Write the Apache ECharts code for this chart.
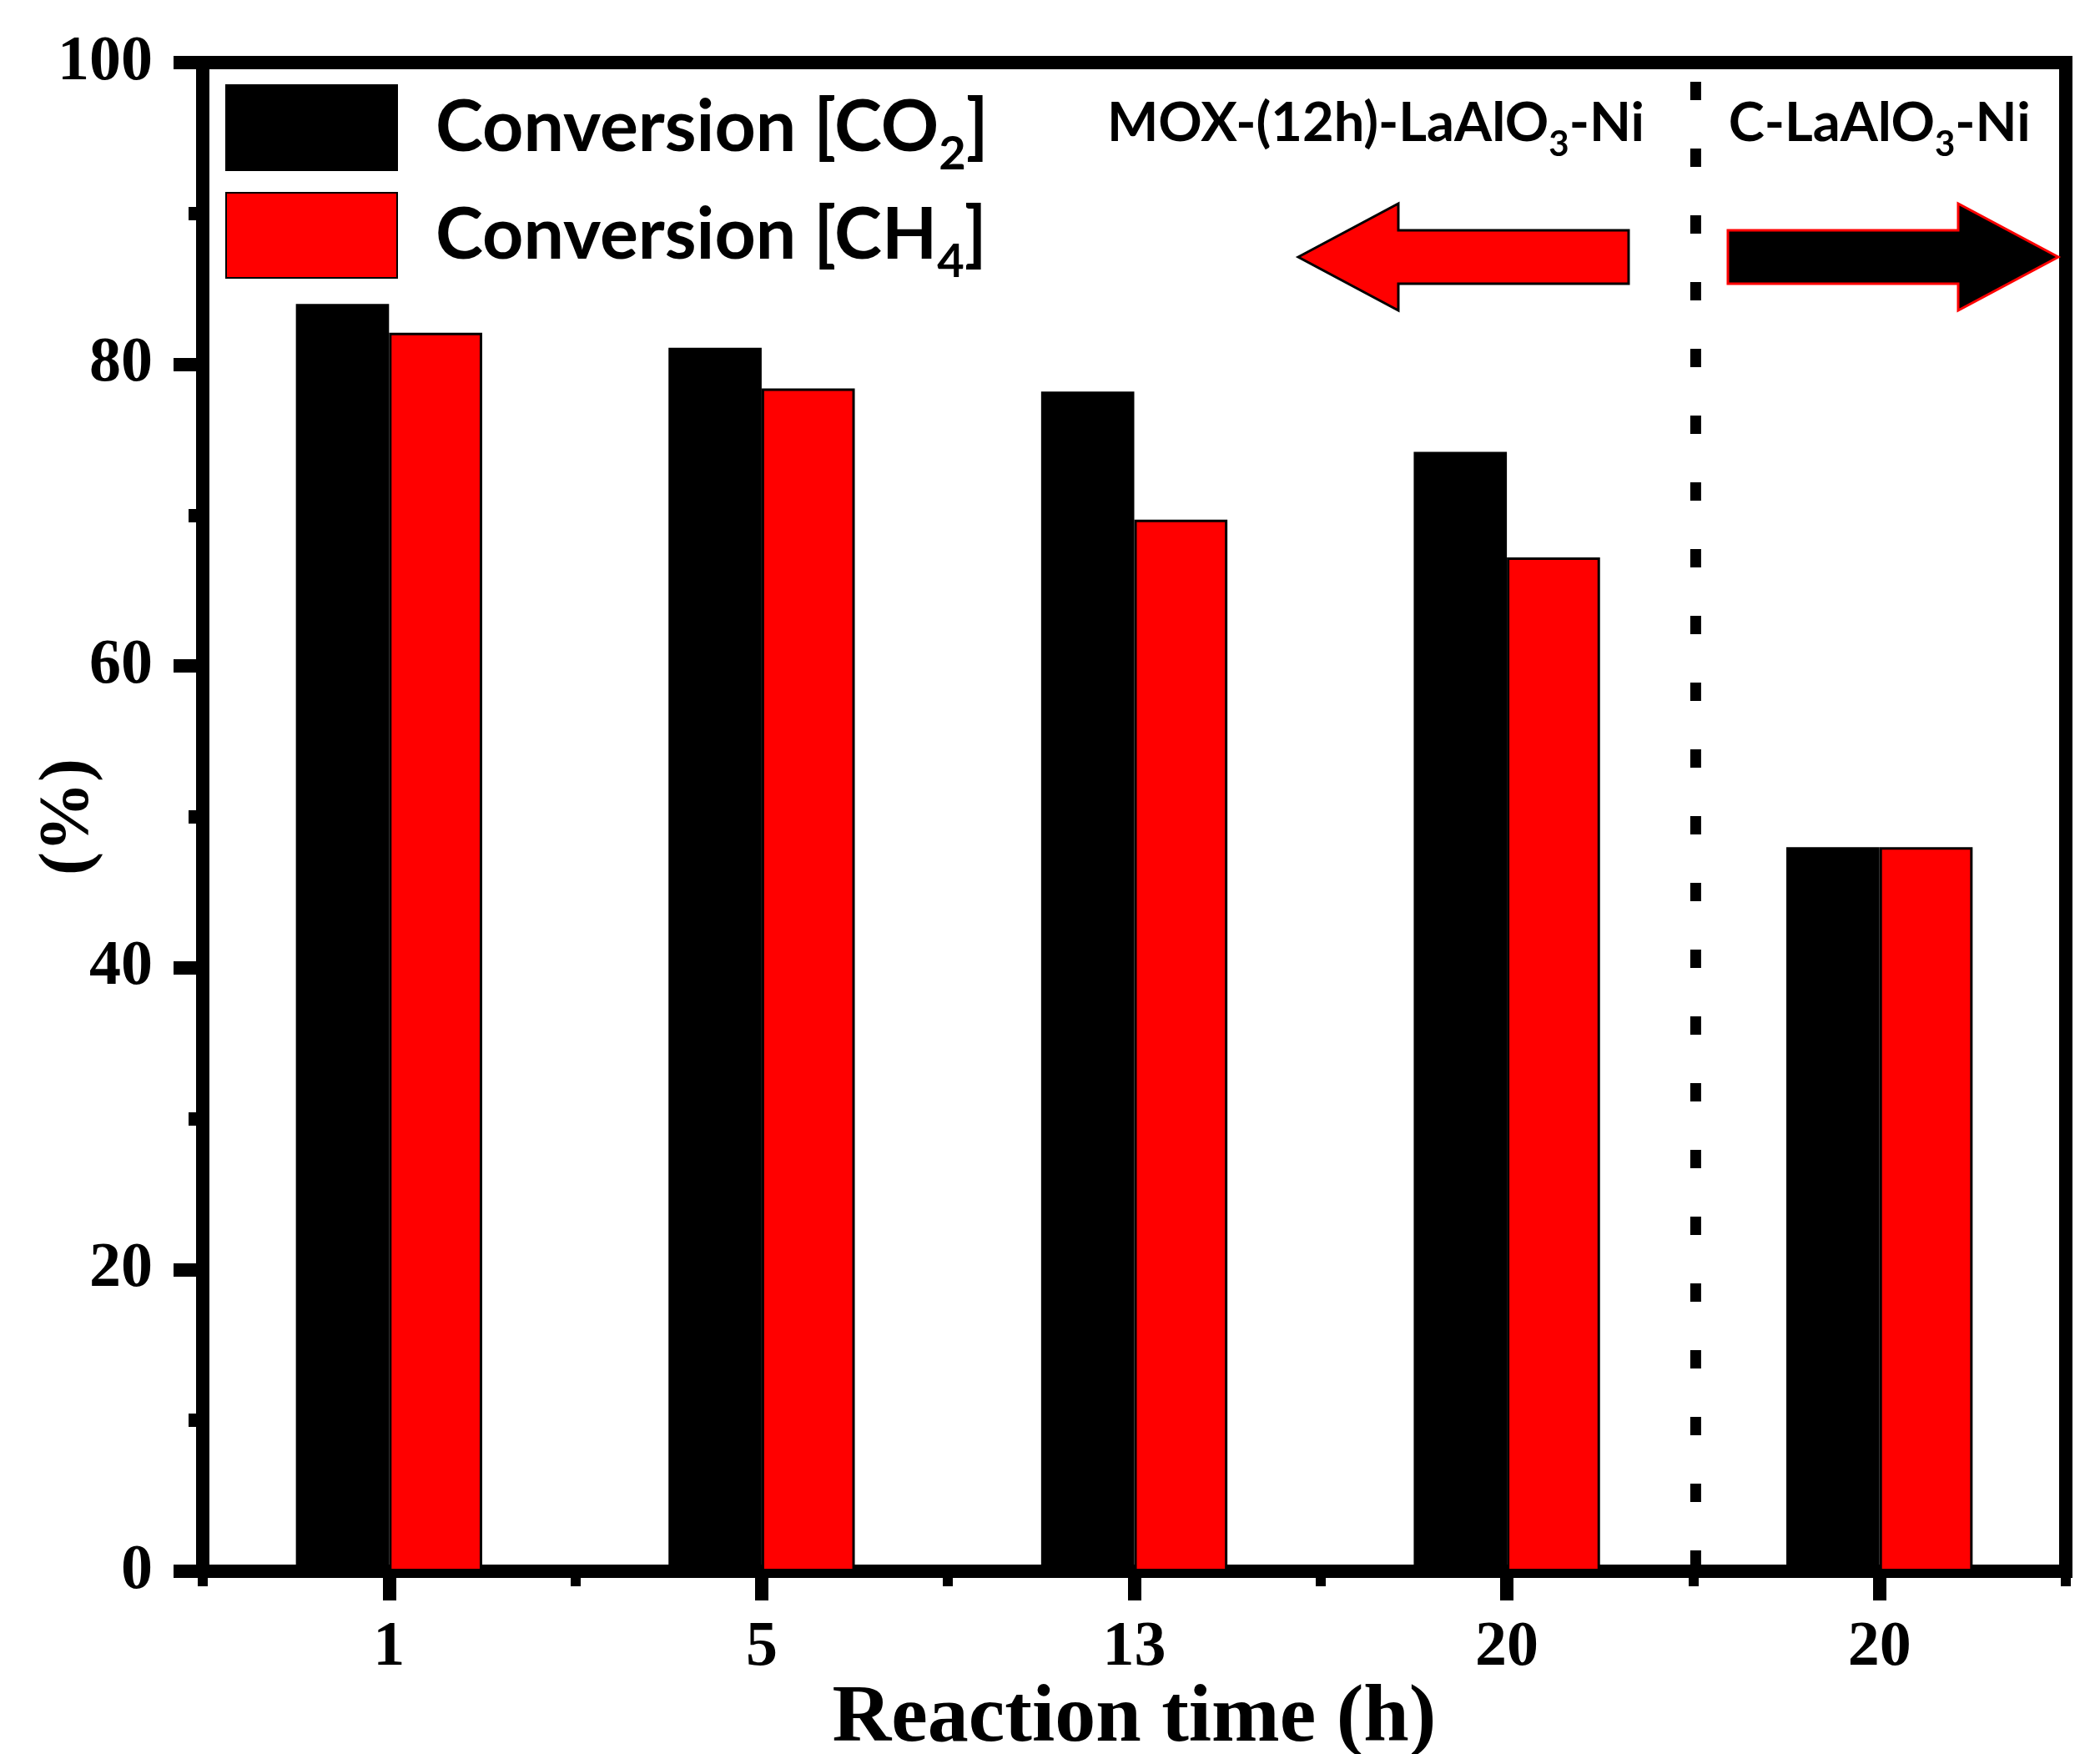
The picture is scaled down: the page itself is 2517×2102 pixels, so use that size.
<!DOCTYPE html>
<html><head><meta charset="utf-8">
<script src="https://cdn.jsdelivr.net/npm/echarts@6/dist/echarts.min.js"></script>
<style>html,body{margin:0;padding:0;background:#fff}#c{width:2517px;height:2102px}</style>
</head><body><div id="c"></div>
<script>
// ---- data ----
const categories = ['1', '5', '13', '20', '20'];
const seriesNames = ['Conversion [CO2]', 'Conversion [CH4]'];
const co2Conversion = [84.0, 81.1, 78.2, 74.2, 48.0];
const ch4Conversion = [82.1, 78.4, 69.7, 67.2, 48.0];
const yTicks = [0, 20, 40, 60, 80, 100];
const groupLabels = ['MOX-(12h)-LaAlO3-Ni', 'C-LaAlO3-Ni'];

// ---- layout ----
const W = 2517, H = 2102;
const G = {left: 243, right: 41, top: 75, bottom: 219};
const plotW = W - G.left - G.right;
const catW = plotW / categories.length;
const serif = '"Liberation Serif", "Times New Roman", serif';
const sans = 'Lato, "Open Sans", sans-serif';

function subRich(s) {
  return s.replace(/([A-Za-z])(\d)(?=[\]\-]|$)/g, '$1}{s|$2}{n|');
}

const chart = echarts.init(document.getElementById('c'), null, {renderer: 'canvas'});

const divX = G.left + catW * 4 + 3;
const subStyle = {fontFamily: sans, fontWeight: 'bold', fontSize: 42, lineHeight: 42, padding: [50, 0, 0, 0], fill: '#000'};
const annStyle = {fontFamily: sans, fontWeight: 'bold', fontSize: 65, lineHeight: 70, fill: '#000'};
const option = {
  backgroundColor: '#fff',
  animation: false,
  grid: {left: G.left, right: G.right, top: G.top, bottom: G.bottom, show: true,
         borderColor: '#000', borderWidth: 16, containLabel: false, outerBoundsMode: 'none'},
  legend: {
    orient: 'vertical', left: 270, top: 93, padding: 0,
    itemWidth: 205, itemHeight: 102, itemGap: 9,
    icon: 'rect',
    data: seriesNames,
    formatter: name => '{g|}{n|' + subRich(name) + '}',
    textStyle: {
      fontFamily: sans, fontWeight: 'bold', fontSize: 86, color: '#000',
      rich: {
        g: {width: 41},
        n: {fontFamily: sans, fontWeight: 'bold', fontSize: 86, lineHeight: 100, color: '#000'},
        s: {fontFamily: sans, fontWeight: 'bold', fontSize: 56, lineHeight: 56, padding: [64, 0, 0, 0], color: '#000'}
      }
    }
  },
  xAxis: [{
    type: 'category', data: categories, position: 'bottom',
    axisLine: {show: true, lineStyle: {color: '#000', width: 16}},
    axisTick: {show: true, alignWithLabel: true, length: 35, lineStyle: {color: '#000', width: 16}},
    axisLabel: {margin: 54, fontFamily: serif, fontWeight: 'bold', fontSize: 76, color: '#000'},
    splitLine: {show: false},
    name: 'Reaction time (h)', nameLocation: 'middle', nameGap: 129, nameMoveOverlap: false,
    nameTextStyle: {fontFamily: serif, fontWeight: 'bold', fontSize: 98, color: '#000'}
  }, {
    type: 'category', data: categories, position: 'bottom', offset: 0,
    axisLine: {show: false},
    axisTick: {show: true, alignWithLabel: false, length: 18, lineStyle: {color: '#000', width: 12}},
    axisLabel: {show: false}, splitLine: {show: false}
  }],
  yAxis: {
    type: 'value', min: yTicks[0], max: yTicks[yTicks.length - 1], interval: yTicks[1] - yTicks[0],
    axisLine: {show: true, lineStyle: {color: '#000', width: 16}},
    axisTick: {show: true, length: 35, lineStyle: {color: '#000', width: 16}},
    minorTick: {show: true, splitNumber: 2, length: 17, lineStyle: {color: '#000', width: 16}},
    splitLine: {show: false},
    axisLabel: {margin: 60, fontFamily: serif, fontWeight: 'bold', fontSize: 76, color: '#000'},
    name: '(%)', nameLocation: 'middle', nameGap: 118, nameMoveOverlap: false,
    nameTextStyle: {fontFamily: serif, fontWeight: 'bold', fontSize: 84, color: '#000'}
  },
  series: [{
    name: seriesNames[0], type: 'bar', data: co2Conversion, xAxisIndex: 0,
    barGap: '0%', barCategoryGap: '50%',
    itemStyle: {color: '#000', borderColor: '#000', borderWidth: 3}
  }, {
    name: seriesNames[1], type: 'bar', data: ch4Conversion, xAxisIndex: 0,
    barGap: '0%', barCategoryGap: '50%',
    itemStyle: {color: '#ff0000', borderColor: '#000', borderWidth: 3}
  }],
  graphic: [
    {type: 'line', z: 50, shape: {x1: divX, y1: 98, x2: divX, y2: H - G.bottom - 8},
     style: {stroke: '#000', lineWidth: 13, lineDash: [22, 58], lineCap: 'butt'}},
    {type: 'text', z: 50, x: 1649, y: 148,
     style: {text: '{n|' + subRich(groupLabels[0]) + '}', align: 'center', verticalAlign: 'middle',
       rich: {n: annStyle, s: subStyle}}},
    {type: 'text', z: 50, x: G.left + catW * 4.5, y: 148,
     style: {text: '{n|' + subRich(groupLabels[1]) + '}', align: 'center', verticalAlign: 'middle',
       rich: {n: annStyle, s: subStyle}}},
    {type: 'polygon', z: 50, shape: {points: [[1556, 308], [1676, 244], [1676, 276], [1952, 276], [1952, 340], [1676, 340], [1676, 372]]},
     style: {fill: '#ff0000', stroke: '#000', lineWidth: 3}},
    {type: 'polygon', z: 50, shape: {points: [[2071, 276], [2347, 276], [2347, 244], [2467, 308], [2347, 372], [2347, 340], [2071, 340]]},
     style: {fill: '#000', stroke: '#ff0000', lineWidth: 3}}
  ]
};
chart.setOption(option);
</script></body></html>
